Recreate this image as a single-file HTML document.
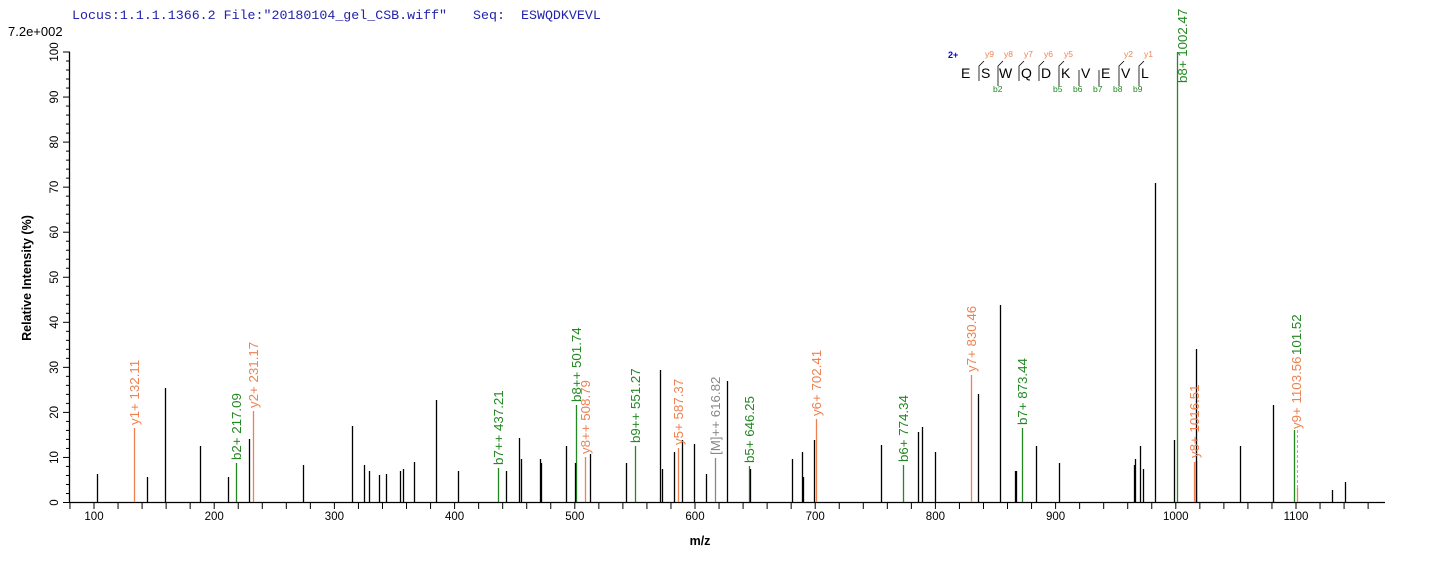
<!DOCTYPE html>
<html><head><meta charset="utf-8"><style>
html,body{margin:0;padding:0;background:#fff;}
svg{display:block;font-family:"Liberation Sans",Arial,sans-serif;}
</style></head><body>
<svg width="1436" height="562" viewBox="0 0 1436 562" xmlns="http://www.w3.org/2000/svg">
<g font-family="Liberation Mono,monospace" font-size="13.3" fill="#2222aa">
<text x="72" y="19">Locus:1.1.1.1366.2 File:"20180104_gel_CSB.wiff"</text>
<text x="473" y="19">Seq:</text>
<text x="521" y="19">ESWQDKVEVL</text>
</g>
<text x="8" y="36" font-size="13" fill="#000">7.2e+002</text>
<g stroke="#000" stroke-width="1.3">
<line x1="70" y1="502.5" x2="1385" y2="502.5"/>
<line x1="69.5" y1="52" x2="69.5" y2="503"/>
</g>
<g id="yt" stroke="#000" stroke-width="1"></g>
<g id="xt" stroke="#000" stroke-width="1"></g>
<g id="yl" font-size="11.5" fill="#000"></g>
<g id="xl" font-size="11.5" fill="#000" text-anchor="middle"></g>
<text transform="translate(31,278) rotate(-90)" font-size="12.5" font-weight="bold" text-anchor="middle">Relative   Intensity (%)</text>
<text x="700" y="545" font-size="12.5" font-weight="bold" text-anchor="middle">m/z</text>
<g id="pk"></g>
<line x1="1297.5" y1="430" x2="1297.5" y2="488" stroke="#aaa" stroke-width="1" stroke-dasharray="3,2"/>
<line x1="1297.5" y1="488" x2="1297.5" y2="502" stroke="#f08050" stroke-width="1.3"/>
<g id="lb" font-size="13.3"></g>
<g font-size="14" fill="#000">
<text x="961" y="78">E</text><text x="981" y="78">S</text><text x="999" y="78">W</text><text x="1021" y="78">Q</text><text x="1041" y="78">D</text><text x="1061" y="78">K</text><text x="1081" y="78">V</text><text x="1101" y="78">E</text><text x="1121" y="78">V</text><text x="1141" y="78">L</text>
</g>
<text x="948" y="58" font-size="9" font-weight="bold" fill="#0000dd">2+</text>
<g font-size="8.5" fill="#f08050">
<text x="985" y="57">y9</text><text x="1004" y="57">y8</text><text x="1024" y="57">y7</text><text x="1044" y="57">y6</text><text x="1064" y="57">y5</text><text x="1124" y="57">y2</text><text x="1144" y="57">y1</text>
</g>
<g font-size="8.5" fill="#228822">
<text x="993" y="92">b2</text><text x="1053" y="92">b5</text><text x="1073" y="92">b6</text><text x="1093" y="92">b7</text><text x="1113" y="92">b8</text><text x="1133" y="92">b9</text>
</g>
<g stroke="#000" stroke-width="0.8" fill="none">
<path d="M979,81 V66 L984,61"/><path d="M998,86 V66 L1003,61"/><path d="M1019,81 V66 L1024,61"/><path d="M1039,81 V66 L1044,61"/><path d="M1059,86 V66 L1064,61"/><path d="M1079,86 V70"/><path d="M1099,86 V70"/><path d="M1119,86 V66 L1124,61"/><path d="M1139,86 V66 L1144,61"/>
</g>
</svg>
<script>
var NS="http://www.w3.org/2000/svg";
function el(p,t,a,txt){var e=document.createElementNS(NS,t);for(var k in a)e.setAttribute(k,a[k]);if(txt!==undefined)e.textContent=txt;document.getElementById(p).appendChild(e);}
function Y(v){return 502.5-v*4.505;}
for(var v=0;v<=100;v+=2){var big=v%10==0;el('yt','line',{x1:big?63:66,x2:70,y1:Y(v),y2:Y(v)});}
for(var v=0;v<=100;v+=10){el('yl','text',{transform:'translate(58,'+Y(v)+') rotate(-90)','text-anchor':'middle'},String(v));}
function X(m){return 94+(m-100)*1.202;}
for(var m=80;m<=1160;m+=20){el('xt','line',{x1:X(m),x2:X(m),y1:503,y2:509});}
for(var m=100;m<=1100;m+=100){el('xl','text',{x:X(m),y:520},String(m));}
var C={k:'#000',g:'#228822',o:'#f08050',s:'#888'};
var P=[[97,474,'k'],[134,428,'o'],[147,477,'k'],[165,388,'k'],[200,446,'k'],[228,477,'k'],[236,463,'g'],[249,439,'k'],[253,411,'o'],[303,465,'k'],[352,426,'k'],[364,465,'k'],[369,471,'k'],[379,475,'k'],[386,474,'k'],[400,471,'k'],[403,469,'k'],[414,462,'k'],[436,400,'k'],[458,471,'k'],[498,468,'g'],[506,471,'k'],[519,438,'k'],[521,459,'k'],[540,459,'k'],[541,463,'k'],[566,446,'k'],[576,405,'g'],[575,463,'k'],[585,457,'o'],[590,454,'k'],[626,463,'k'],[635,446,'g'],[660,370,'k'],[662,469,'k'],[674,452,'k'],[678,448,'o'],[682,440,'k'],[694,444,'k'],[706,474,'k'],[715,458,'s'],[727,381,'k'],[749,466,'g'],[750,469,'k'],[792,459,'k'],[802,452,'k'],[803,477,'k'],[814,440,'k'],[816,419,'o'],[881,445,'k'],[903,465,'g'],[918,432,'k'],[922,427,'k'],[935,452,'k'],[971,375,'o'],[978,394,'k'],[1015,471,'k'],[1016,471,'k'],[1022,428,'g'],[1000,305,'k'],[1036,446,'k'],[1059,463,'k'],[1134,465,'k'],[1135,459,'k'],[1140,446,'k'],[1143,469,'k'],[1155,183,'k'],[1174,440,'k'],[1177,52,'g'],[1194,462,'o'],[1196,461,'k'],[1196,349,'k'],[1240,446,'k'],[1273,405,'k'],[1294,430,'g'],[1332,490,'k'],[1345,482,'k']];
P.forEach(function(p){el('pk','line',{x1:p[0]+.5,x2:p[0]+.5,y1:p[1],y2:502,stroke:C[p[2]],'stroke-width':1.3});});
var L=[[134,428,'o','y1+ 132.11'],[236,463,'g','b2+ 217.09'],[253,411,'o','y2+ 231.17'],[498,468,'g','b7++ 437.21'],[576,405,'g','b8++ 501.74'],[585,457,'o','y8++ 508.79'],[635,446,'g','b9++ 551.27'],[678,448,'o','y5+ 587.37'],[715,458,'s','[M]++ 616.82'],[749,466,'g','b5+ 646.25'],[816,419,'o','y6+ 702.41'],[903,465,'g','b6+ 774.34'],[971,375,'o','y7+ 830.46'],[1022,428,'g','b7+ 873.44'],[1182,86,'g','b8+ 1002.47'],[1194,461,'o','y8+ 1016.51'],[1296,358,'g','101.52'],[1296,432,'o','y9+ 1103.56']];
L.forEach(function(l){el('lb','text',{transform:'translate('+(l[0]+5)+','+(l[1]-3)+') rotate(-90)',fill:C[l[2]]},l[3]);});
</script>
</body></html>
